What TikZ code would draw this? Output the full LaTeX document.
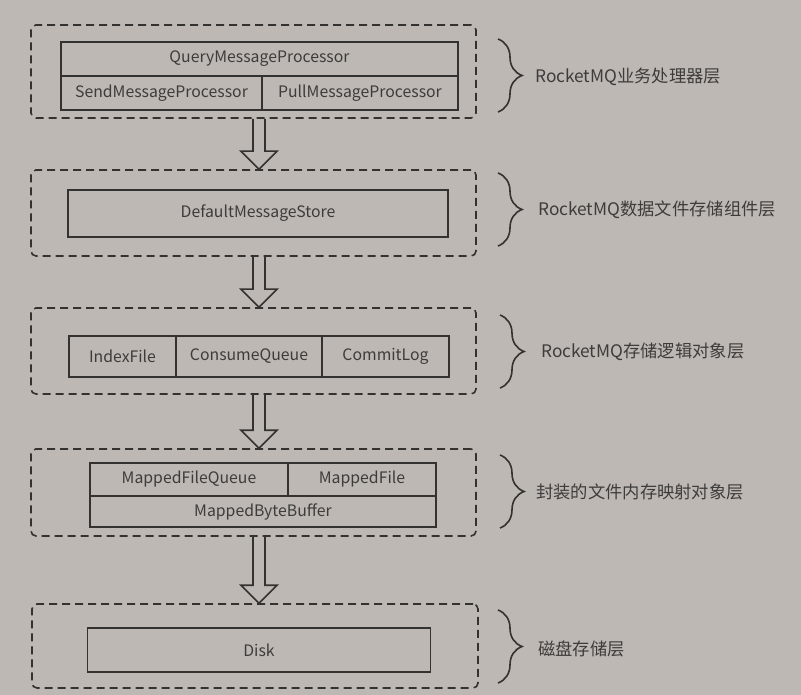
\documentclass[tikz,border=0pt]{standalone}
\usepackage{fontspec}
\setmainfont{Noto Sans CJK SC}
\usetikzlibrary{decorations.pathreplacing,calc}
\definecolor{bg}{RGB}{189,184,180}
\definecolor{ln}{RGB}{52,50,49}
\definecolor{tx}{RGB}{62,60,59}
\begin{document}
\begin{tikzpicture}[x=1pt,y=-1pt,
  layer/.style={draw=ln,line width=1.6pt,dash pattern=on 8pt off 5pt,rounded corners=5pt,inner sep=0pt},
  cell/.style={draw=ln,line width=1.5pt,inner sep=0pt,text=tx,font=\fontsize{15.8}{17}\selectfont},
  lab/.style={anchor=west,text=tx,inner sep=0pt,font=\fontsize{17.3}{19}\selectfont},
  brc/.style={draw=ln,line width=1.6pt,decorate,decoration={brace,amplitude=24pt}},
  blk/.style={draw=ln,line width=1.6pt,line join=miter}]
\fill[bg] (0,0) rectangle (801,695);
\useasboundingbox (0,0) rectangle (801,695);
% layers
\node[layer,minimum width=445,minimum height=93] (l1) at (253.5,71.5) {};
\node[layer,minimum width=445,minimum height=86] (l2) at (253.5,213) {};
\node[layer,minimum width=445,minimum height=86] (l3) at (253.5,351) {};
\node[layer,minimum width=445,minimum height=87] (l4) at (253.5,492.5) {};
\node[layer,minimum width=446,minimum height=84] (l5) at (255,646) {};
% layer 1 cells
\node[cell,minimum width=397,minimum height=34] (query) at (259.5,59) {QueryMessageProcessor};
\node[cell,minimum width=201,minimum height=34] (send) at (161.5,93) {SendMessageProcessor};
\node[cell,minimum width=196,minimum height=34] (pull) at (360,93) {PullMessageProcessor};
% layer 2
\node[cell,minimum width=380,minimum height=47] (dms) at (258,213.5) {DefaultMessageStore};
% layer 3
\node[cell,minimum width=107,minimum height=41] (idx) at (122.5,356.5) {IndexFile};
\node[cell,minimum width=146,minimum height=41] (cq) at (249,356.5) {ConsumeQueue};
\node[cell,minimum width=127,minimum height=41] (cl) at (385.5,356.5) {CommitLog};
% layer 4
\node[cell,minimum width=198,minimum height=33] (mfq) at (189,479.5) {MappedFileQueue};
\node[cell,minimum width=148,minimum height=33] (mf) at (362,479.5) {MappedFile};
\node[cell,minimum width=346,minimum height=31] (mbb) at (263,511.5) {MappedByteBuffer};
% layer 5
\node[cell,minimum width=343,minimum height=44] (disk) at (259,650) {Disk};
% arrows (axis at x = 259)
\coordinate (ax) at (259,0);
\foreach \a/\b in {l1/l2,l2/l3,l3/l4,l4/l5}{
  \draw[blk] ([xshift=-6pt]ax |- \a.south) -- ([xshift=-6pt,yshift=18pt]ax |- \b.north)
    -- ([xshift=-18pt,yshift=18pt]ax |- \b.north) -- (ax |- \b.north)
    -- ([xshift=18pt,yshift=18pt]ax |- \b.north) -- ([xshift=6pt,yshift=18pt]ax |- \b.north)
    -- ([xshift=6pt]ax |- \a.south);
}
% braces and labels
\coordinate (b1t) at (498,39);  \coordinate (b1b) at (498,112);
\coordinate (b2t) at (498,173); \coordinate (b2b) at (498,246);
\coordinate (b3t) at (500,315); \coordinate (b3b) at (500,388);
\coordinate (b4t) at (500,455); \coordinate (b4b) at (500,528);
\coordinate (b5t) at (498,610); \coordinate (b5b) at (498,683);
\draw[brc] (b1t) -- (b1b);
\draw[brc] (b2t) -- (b2b);
\draw[brc] (b3t) -- (b3b);
\draw[brc] (b4t) -- (b4b);
\draw[brc] (b5t) -- (b5b);
\node[lab] (t1) at (535,77) {RocketMQ业务处理器层};
\node[lab] (t2) at (538,210) {RocketMQ数据文件存储组件层};
\node[lab] (t3) at (541,352) {RocketMQ存储逻辑对象层};
\node[lab] (t4) at (536,492) {封装的文件内存映射对象层};
\node[lab] (t5) at (538,649) {磁盘存储层};
\end{tikzpicture}
\end{document}
